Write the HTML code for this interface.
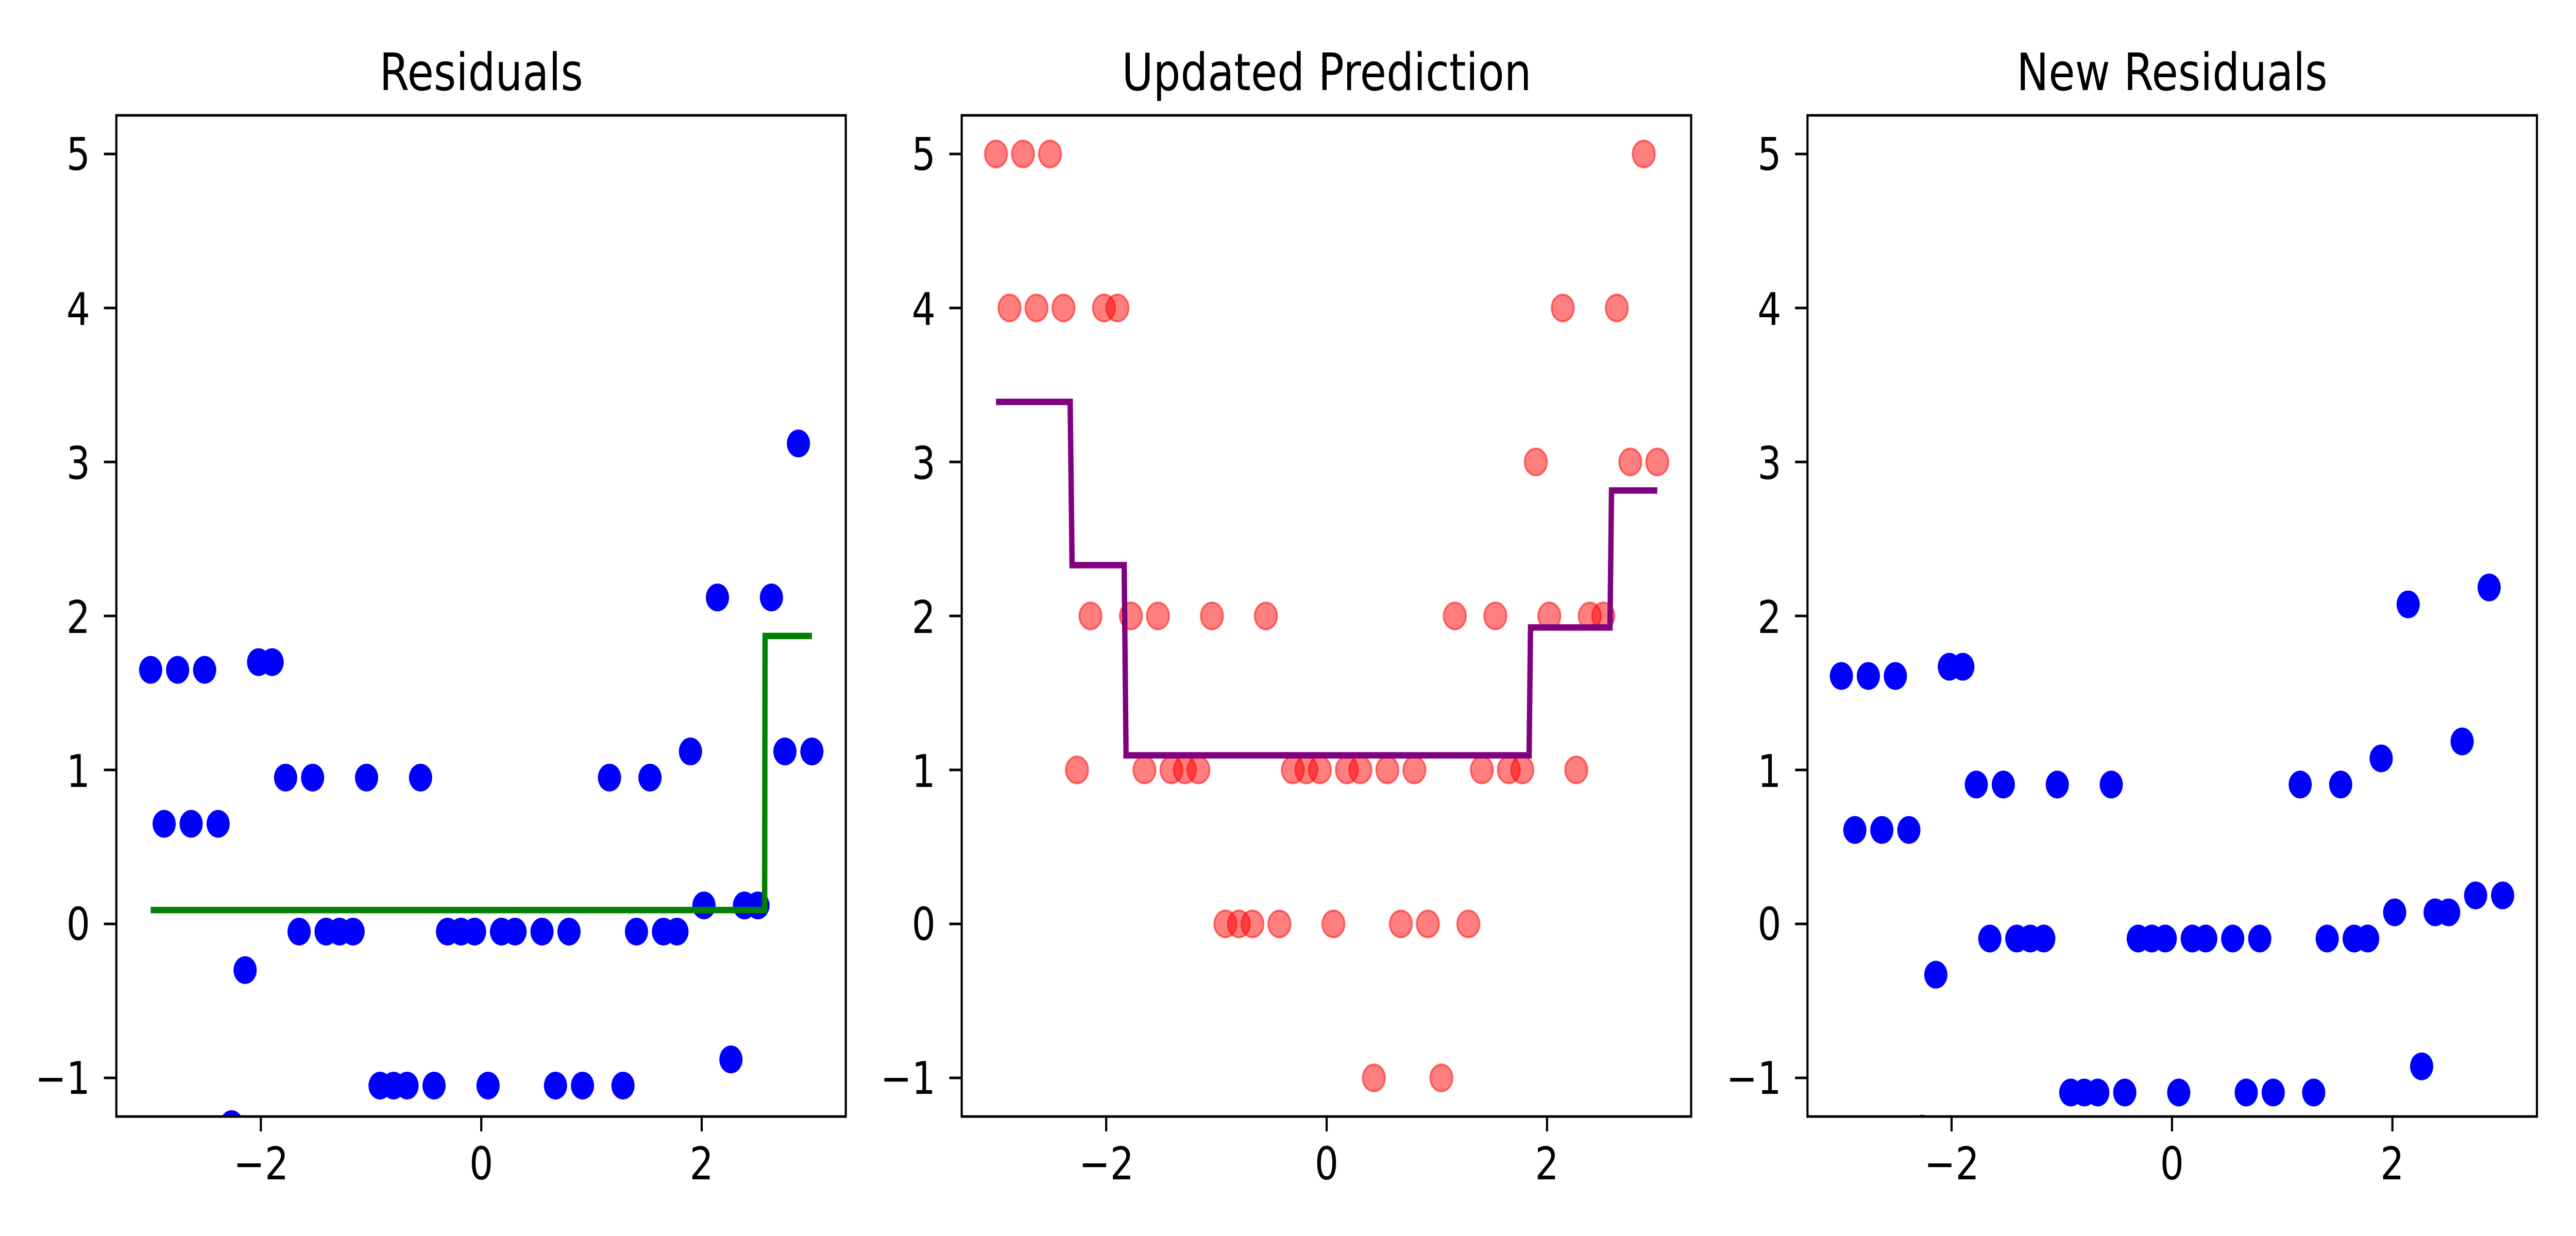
<!DOCTYPE html>
<html><head><meta charset="utf-8"><style>
html,body{margin:0;padding:0;background:#fff;width:100%;height:100%;overflow:hidden;}
svg{display:block;position:fixed;left:0;top:0;width:100vw;height:100vh;}
text{font-family:"DejaVu Sans","Liberation Sans",sans-serif;fill:#000;}
</style></head><body>
<svg id="s" viewBox="0 0 6000 2400" preserveAspectRatio="none" xmlns="http://www.w3.org/2000/svg">
<rect width="6000" height="2400" fill="#fff"/>
<defs>
<clipPath id="c0"><rect x="271" y="224" width="1699" height="1944"/></clipPath>
<clipPath id="c1"><rect x="2240" y="224" width="1699" height="1944"/></clipPath>
<clipPath id="c2"><rect x="4210" y="224" width="1699" height="1944"/></clipPath>
</defs>
<g id="g0" clip-path="url(#c0)"></g>
<g id="g1" clip-path="url(#c1)"></g>
<g id="g2" clip-path="url(#c2)"></g>
<g id="ax"></g>
<g font-size="100" text-anchor="middle">
<text x="1121" y="175">Residuals</text>
<text x="3090" y="175">Updated Prediction</text>
<text x="5059" y="175">New Residuals</text>
</g>
<g font-size="87" text-anchor="middle">
<text x="608" y="2290">−2</text><text x="1121" y="2290">0</text><text x="1634" y="2290">2</text>
<text x="2577" y="2290">−2</text><text x="3090" y="2290">0</text><text x="3603" y="2290">2</text>
<text x="4546" y="2290">−2</text><text x="5059" y="2290">0</text><text x="5572" y="2290">2</text>
</g>
<g font-size="87" text-anchor="end">
<text x="210" y="330">5</text><text x="210" y="631">4</text><text x="210" y="930">3</text><text x="210" y="1229">2</text><text x="210" y="1528">1</text><text x="210" y="1825">0</text><text x="210" y="2124">−1</text>
<text x="2179" y="330">5</text><text x="2179" y="631">4</text><text x="2179" y="930">3</text><text x="2179" y="1229">2</text><text x="2179" y="1528">1</text><text x="2179" y="1825">0</text><text x="2179" y="2124">−1</text>
<text x="4149" y="330">5</text><text x="4149" y="631">4</text><text x="4149" y="930">3</text><text x="4149" y="1229">2</text><text x="4149" y="1528">1</text><text x="4149" y="1825">0</text><text x="4149" y="2124">−1</text>
</g>
</svg>
<script>
var NS="http://www.w3.org/2000/svg";
function el(p,t,a){var e=document.createElementNS(NS,t);for(var k in a)e.setAttribute(k,a[k]);p.appendChild(e);return e;}
var Y=[5,4,5,4,5,4,1,2,4,4,2,1,2,1,1,1,2,0,0,0,2,0,1,1,1,0,1,1,-1,1,0,1,0,-1,2,0,1,2,1,1,3,2,4,1,2,2,4,3,5,3];
var cx=[1121,3090,5059],lefts=[271,2240,4210];
function X(p,v){return cx[p]+v*256.7;}
function YY(v){return 1794-v*299;}
function F0(i){return i<6?3.35:i<10?2.30:i<40?1.05:1.88;}
function P(i){return i<6?3.39:i<10?2.33:i<40?1.095:i<46?1.925:2.815;}
var g=[document.getElementById('g0'),document.getElementById('g1'),document.getElementById('g2')];
for(var i=0;i<50;i++){var x=-3+i*6/49;
 el(g[0],'circle',{cx:X(0,x),cy:YY(Y[i]-F0(i)),r:27,fill:'#0000ff'});
 el(g[1],'circle',{cx:X(1,x),cy:YY(Y[i]),r:26,fill:'#ff0000','fill-opacity':0.5,stroke:'#ff0000','stroke-opacity':0.5,'stroke-width':4});
 el(g[2],'circle',{cx:X(2,x),cy:YY(Y[i]-P(i)),r:27,fill:'#0000ff'});
}
function pts(p,arr){return arr.map(function(a){return X(p,a[0])+','+YY(a[1]);}).join(' ');}
el(g[0],'polyline',{points:pts(0,[[-3,0.09],[2.571,0.09],[2.575,1.87],[3,1.87]]),fill:'none',stroke:'#008000','stroke-width':12.5});
el(g[1],'polyline',{points:pts(1,[[-3,3.39],[-2.327,3.39],[-2.31,2.33],[-1.837,2.33],[-1.82,1.095],[1.837,1.095],[1.85,1.925],[2.571,1.925],[2.585,2.815],[3,2.815]]),fill:'none',stroke:'#800080','stroke-width':12.5});
var ax=document.getElementById('ax');
for(var p=0;p<3;p++){var L=lefts[p];
 el(ax,'rect',{x:L,y:224,width:1699,height:1944,fill:'none',stroke:'#000','stroke-width':5});
 for(var j=-1;j<=5;j++){var yy=YY(j);
  el(ax,'line',{x1:L-29,x2:L,y1:yy,y2:yy,stroke:'#000','stroke-width':5});}
 [-2,0,2].forEach(function(v){var xx=X(p,v);el(ax,'line',{x1:xx,x2:xx,y1:2168,y2:2197,stroke:'#000','stroke-width':5});});
}
</script>
</body></html>
